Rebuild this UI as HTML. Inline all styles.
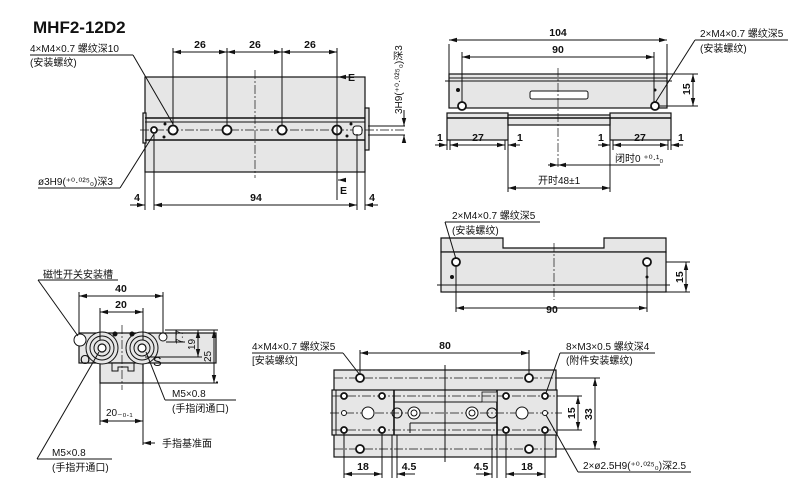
<!DOCTYPE html>
<html><head><meta charset="utf-8"><style>
html,body{margin:0;padding:0;background:#fff;}
svg{display:block;}
text{font-family:"Liberation Sans","Noto Sans CJK SC",sans-serif;fill:#111;}
.t{font-size:10px;}
.b{font-size:10.5px;font-weight:bold;}
.l{stroke:#111;stroke-width:1;fill:none;}
.th{stroke:#111;stroke-width:1.6;fill:none;}
.c{stroke:#111;stroke-width:0.7;fill:none;stroke-dasharray:9 2 2 2;}
.g{fill:#e6e6e6;stroke:#111;stroke-width:1.2;}
.h{fill:#fff;stroke:#111;stroke-width:1.8;}
</style></head><body>
<svg width="800" height="502" viewBox="0 0 800 502" xmlns="http://www.w3.org/2000/svg">
<defs>
<marker id="a" markerWidth="8" markerHeight="6" refX="8" refY="3" orient="auto-start-reverse" markerUnits="userSpaceOnUse"><path d="M0,0.8 L8,3 L0,5.2z" fill="#111"/></marker>
</defs>

<!-- Title -->
<text x="33" y="33" style="font-size:17px;font-weight:bold">MHF2-12D2</text>

<!-- ===== TOP-LEFT VIEW ===== -->
<rect x="145" y="77" width="220" height="95" class="g"/>
<rect x="365" y="108" width="4" height="42" class="g"/>
<rect x="143" y="113" width="3" height="30" class="g"/>
<line x1="145" y1="118" x2="365" y2="118" class="th"/>
<line x1="145" y1="140" x2="365" y2="140" class="th"/>
<line x1="145" y1="122" x2="365" y2="122" class="l"/>
<line x1="140" y1="130" x2="405" y2="130" class="c"/>
<line x1="255" y1="70" x2="255" y2="178" class="c"/>
<circle cx="173" cy="130" r="4.5" class="h"/>
<circle cx="227" cy="130" r="4.5" class="h"/>
<circle cx="282" cy="130" r="4.5" class="h"/>
<circle cx="337" cy="130" r="4.5" class="h"/>
<circle cx="154" cy="130" r="3" class="h"/>
<circle cx="165" cy="124" r="1.5" fill="#111"/><circle cx="164" cy="137" r="1.5" fill="#111"/>
<circle cx="351" cy="124" r="1.5" fill="#111"/><circle cx="347" cy="136" r="1.5" fill="#111"/>
<rect x="353" y="126" width="9" height="9" rx="3" class="h" style="stroke-width:1"/>
<line x1="368" y1="126" x2="405" y2="126" class="l"/>
<line x1="368" y1="135" x2="405" y2="135" class="l"/>
<!-- 26 dims -->
<line x1="173" y1="48" x2="173" y2="126" class="l"/>
<line x1="227" y1="48" x2="227" y2="126" class="l"/>
<line x1="282" y1="48" x2="282" y2="126" class="l"/>
<line x1="337" y1="48" x2="337" y2="200" class="l"/>
<line x1="173" y1="52" x2="227" y2="52" class="l" marker-start="url(#a)" marker-end="url(#a)"/>
<line x1="227" y1="52" x2="282" y2="52" class="l" marker-start="url(#a)" marker-end="url(#a)"/>
<line x1="282" y1="52" x2="337" y2="52" class="l" marker-start="url(#a)" marker-end="url(#a)"/>
<text x="200" y="48" class="b" text-anchor="middle">26</text>
<text x="255" y="48" class="b" text-anchor="middle">26</text>
<text x="310" y="48" class="b" text-anchor="middle">26</text>
<!-- E -->
<line x1="338" y1="77" x2="345" y2="77" class="l" marker-start="url(#a)"/>
<text x="348" y="81" class="b">E</text>
<line x1="338" y1="180" x2="345" y2="180" class="l" marker-start="url(#a)"/>
<text x="340" y="194" class="b">E</text>
<!-- bottom dims -->
<line x1="145" y1="172" x2="145" y2="210" class="l"/>
<line x1="154" y1="134" x2="154" y2="210" class="l"/>
<line x1="357" y1="134" x2="357" y2="210" class="l"/>
<line x1="365" y1="172" x2="365" y2="210" class="l"/>
<line x1="130" y1="205" x2="145" y2="205" class="l" marker-end="url(#a)"/>
<line x1="154" y1="205" x2="357" y2="205" class="l" marker-start="url(#a)" marker-end="url(#a)"/>
<line x1="365" y1="205" x2="378" y2="205" class="l" marker-start="url(#a)"/>
<text x="137" y="201" class="b" text-anchor="middle">4</text>
<text x="256" y="201" class="b" text-anchor="middle">94</text>
<text x="372" y="201" class="b" text-anchor="middle">4</text>
<!-- 3H9 -->
<line x1="404" y1="110" x2="404" y2="126" class="l" marker-end="url(#a)"/>
<line x1="404" y1="142" x2="404" y2="135" class="l" marker-end="url(#a)"/>
<text transform="translate(402,114) rotate(-90)" class="t">3H9(⁺⁰·⁰²⁵₀)深3</text>
<!-- leaders -->
<text x="30" y="52" class="t">4×M4×0.7 螺纹深10</text>
<line x1="30" y1="55" x2="133" y2="55" class="l"/>
<line x1="133" y1="55" x2="173" y2="124" class="l"/>
<text x="30" y="66" class="t">(安装螺纹)</text>
<text x="38" y="185" class="t">ø3H9(⁺⁰·⁰²⁵₀)深3</text>
<line x1="38" y1="188" x2="120" y2="188" class="l"/>
<line x1="120" y1="188" x2="154" y2="134" class="l"/>

<!-- ===== TOP-RIGHT VIEW ===== -->
<rect x="449" y="74" width="218" height="34" class="g"/>
<line x1="445" y1="81" x2="672" y2="81" class="l"/>
<line x1="449" y1="78" x2="667" y2="78" class="l"/>
<rect x="530" y="91" width="58" height="8" rx="2" fill="#fff" stroke="#111"/>
<circle cx="462" cy="106" r="4" class="h"/>
<circle cx="655" cy="106" r="4" class="h"/>
<circle cx="458" cy="90" r="2" fill="#111"/><circle cx="655" cy="90" r="1.5" fill="#111"/>
<rect x="447" y="113" width="61" height="27" class="g"/>
<rect x="610" y="113" width="61" height="27" class="g"/>
<rect x="508" y="115" width="102" height="10" class="g"/>
<line x1="447" y1="118" x2="671" y2="118" class="th"/>
<line x1="449" y1="74" x2="449" y2="44" class="l"/>
<line x1="667" y1="74" x2="667" y2="44" class="l"/>
<line x1="462" y1="102" x2="462" y2="52" class="l"/>
<line x1="654" y1="102" x2="654" y2="52" class="l"/>
<line x1="449" y1="40" x2="667" y2="40" class="l" marker-start="url(#a)" marker-end="url(#a)"/>
<line x1="462" y1="57" x2="654" y2="57" class="l" marker-start="url(#a)" marker-end="url(#a)"/>
<text x="558" y="36" class="b" text-anchor="middle">104</text>
<text x="558" y="53" class="b" text-anchor="middle">90</text>
<line x1="558" y1="68" x2="558" y2="168" class="c"/>
<line x1="667" y1="74" x2="698" y2="74" class="l"/>
<line x1="660" y1="106" x2="698" y2="106" class="l"/>
<line x1="693" y1="74" x2="693" y2="106" class="l" marker-start="url(#a)" marker-end="url(#a)"/>
<text transform="translate(690,95) rotate(-90)" class="b">15</text>
<line x1="447" y1="140" x2="447" y2="150" class="l"/>
<line x1="450" y1="140" x2="450" y2="150" class="l"/>
<line x1="508" y1="140" x2="508" y2="192" class="l"/>
<line x1="505" y1="140" x2="505" y2="150" class="l"/>
<line x1="610" y1="140" x2="610" y2="192" class="l"/>
<line x1="613" y1="140" x2="613" y2="150" class="l"/>
<line x1="668" y1="140" x2="668" y2="150" class="l"/>
<line x1="671" y1="140" x2="671" y2="150" class="l"/>
<line x1="435" y1="145" x2="447" y2="145" class="l" marker-end="url(#a)"/>
<line x1="450" y1="145" x2="505" y2="145" class="l" marker-start="url(#a)" marker-end="url(#a)"/>
<line x1="508" y1="145" x2="520" y2="145" class="l" marker-start="url(#a)"/>
<line x1="598" y1="145" x2="610" y2="145" class="l" marker-end="url(#a)"/>
<line x1="613" y1="145" x2="668" y2="145" class="l" marker-start="url(#a)" marker-end="url(#a)"/>
<line x1="671" y1="145" x2="683" y2="145" class="l" marker-start="url(#a)"/>
<text x="437" y="141" class="b">1</text><text x="478" y="141" class="b" text-anchor="middle">27</text><text x="517" y="141" class="b">1</text>
<text x="598" y="141" class="b">1</text><text x="640" y="141" class="b" text-anchor="middle">27</text><text x="678" y="141" class="b">1</text>
<line x1="548" y1="165" x2="558" y2="165" class="l" marker-end="url(#a)"/>
<line x1="558" y1="165" x2="660" y2="165" class="l" marker-start="url(#a)"/>
<text x="615" y="162" class="t">闭时0 ⁺⁰·¹₀</text>
<line x1="508" y1="188" x2="610" y2="188" class="l" marker-start="url(#a)" marker-end="url(#a)"/>
<text x="538" y="184" class="t">开时48±1</text>
<text x="700" y="37" class="t">2×M4×0.7 螺纹深5</text>
<line x1="695" y1="40" x2="788" y2="40" class="l"/>
<line x1="695" y1="40" x2="655" y2="103" class="l"/>
<text x="700" y="52" class="t">(安装螺纹)</text>

<!-- ===== MIDDLE-RIGHT VIEW ===== -->
<path d="M441,238 H503 V248 H604 V238 H666 V252 H441 Z" class="g"/>
<rect x="441" y="252" width="225" height="40" class="g"/>
<line x1="437" y1="285" x2="670" y2="285" class="l"/>
<circle cx="456" cy="262" r="4" class="h"/>
<circle cx="647" cy="262" r="4" class="h"/>
<circle cx="452" cy="277" r="2" fill="#111"/><circle cx="647" cy="277" r="1.5" fill="#111"/>
<line x1="554" y1="243" x2="554" y2="300" class="c"/>
<line x1="666" y1="262" x2="690" y2="262" class="l"/>
<line x1="666" y1="292" x2="690" y2="292" class="l"/>
<line x1="686" y1="262" x2="686" y2="292" class="l" marker-start="url(#a)" marker-end="url(#a)"/>
<text transform="translate(683,283) rotate(-90)" class="b">15</text>
<line x1="456" y1="266" x2="456" y2="312" class="l"/>
<line x1="647" y1="266" x2="647" y2="312" class="l"/>
<line x1="456" y1="308" x2="647" y2="308" class="l" marker-start="url(#a)" marker-end="url(#a)"/>
<text x="552" y="313" class="b" text-anchor="middle">90</text>
<text x="452" y="219" class="t">2×M4×0.7 螺纹深5</text>
<line x1="445" y1="222" x2="540" y2="222" class="l"/>
<line x1="445" y1="222" x2="456" y2="259" class="l"/>
<text x="452" y="234" class="t">(安装螺纹)</text>

<!-- ===== BOTTOM-LEFT VIEW ===== -->
<rect x="79" y="333" width="137" height="30" class="g"/>
<rect x="100" y="363" width="43" height="20" class="g"/>
<path d="M112,363 v8 h6 v-4 h10 v4 h6 v-8" class="l"/>
<circle cx="102" cy="348" r="16" fill="#e6e6e6" stroke="#111"/>
<circle cx="102" cy="348" r="12" fill="none" stroke="#111"/><circle cx="102" cy="348" r="8" fill="none" stroke="#111"/>
<circle cx="102" cy="348" r="4" class="h" style="stroke-width:1.2"/>
<circle cx="142" cy="348" r="16" fill="#e6e6e6" stroke="#111"/>
<circle cx="142" cy="348" r="12" fill="none" stroke="#111"/><circle cx="142" cy="348" r="8" fill="none" stroke="#111"/>
<circle cx="142" cy="348" r="4" class="h" style="stroke-width:1.2"/>
<circle cx="80" cy="340" r="6" fill="#fff" stroke="#111"/>
<circle cx="163" cy="337" r="4" fill="#fff" stroke="#111"/>
<circle cx="115" cy="334" r="2.5" fill="#111"/><circle cx="132" cy="334" r="2.5" fill="#111"/>
<text x="80" y="364" class="b" style="font-size:13px;font-weight:normal">O</text>
<text x="153" y="366" class="b" style="font-size:13px;font-weight:normal">S</text>
<line x1="122" y1="325" x2="122" y2="390" class="c"/>
<line x1="79" y1="333" x2="79" y2="292" class="l"/>
<line x1="163" y1="333" x2="163" y2="292" class="l"/>
<line x1="79" y1="296" x2="163" y2="296" class="l" marker-start="url(#a)" marker-end="url(#a)"/>
<text x="121" y="292" class="b" text-anchor="middle">40</text>
<line x1="100" y1="340" x2="100" y2="308" class="l"/>
<line x1="143" y1="340" x2="143" y2="308" class="l"/>
<line x1="100" y1="312" x2="143" y2="312" class="l" marker-start="url(#a)" marker-end="url(#a)"/>
<text x="121" y="308" class="b" text-anchor="middle">20</text>
<line x1="165" y1="330" x2="218" y2="330" class="l"/>
<line x1="166" y1="342" x2="185" y2="342" class="l"/>
<line x1="216" y1="382" x2="218" y2="382" class="l"/>
<line x1="145" y1="357" x2="202" y2="357" class="l"/>
<line x1="176" y1="330" x2="176" y2="342" class="l"/>
<text transform="translate(183,344) rotate(-90)" class="t">7.7</text>
<line x1="198" y1="330" x2="198" y2="357" class="l" marker-start="url(#a)" marker-end="url(#a)"/>
<text transform="translate(195,350) rotate(-90)" class="t">19</text>
<line x1="143" y1="383" x2="218" y2="383" class="l"/>
<line x1="214" y1="330" x2="214" y2="383" class="l" marker-start="url(#a)" marker-end="url(#a)"/>
<text transform="translate(211,362) rotate(-90)" class="t">25</text>
<line x1="100" y1="383" x2="100" y2="425" class="l"/>
<line x1="143" y1="383" x2="143" y2="445" class="l"/>
<line x1="100" y1="421" x2="143" y2="421" class="l" marker-start="url(#a)" marker-end="url(#a)"/>
<text x="106" y="416" class="t">20₋₀.₁</text>
<line x1="143" y1="443" x2="155" y2="443" class="l" marker-start="url(#a)"/>
<text x="162" y="447" class="t">手指基准面</text>
<text x="43" y="278" class="t">磁性开关安装槽</text>
<line x1="38" y1="280" x2="118" y2="280" class="l"/>
<line x1="38" y1="280" x2="78" y2="336" class="l"/>
<text x="172" y="397" class="t">M5×0.8</text>
<text x="172" y="412" class="t">(手指闭通口)</text>
<line x1="165" y1="400" x2="236" y2="400" class="l"/>
<line x1="165" y1="400" x2="146" y2="352" class="l"/>
<text x="52" y="456" class="t">M5×0.8</text>
<text x="52" y="471" class="t">(手指开通口)</text>
<line x1="37" y1="459" x2="112" y2="459" class="l"/>
<line x1="37" y1="459" x2="99" y2="352" class="l"/>

<!-- ===== BOTTOM-MIDDLE VIEW ===== -->
<rect x="334" y="370" width="222" height="87" class="g"/>
<rect x="332" y="390" width="225" height="45" class="g"/>
<line x1="394" y1="390" x2="394" y2="435" class="th"/>
<line x1="497" y1="390" x2="497" y2="435" class="th"/>
<line x1="336" y1="390" x2="336" y2="435" class="l"/>
<rect x="482" y="392" width="15" height="10" fill="#ddd" stroke="#111" stroke-width="0.8"/>
<line x1="394" y1="402" x2="482" y2="402" class="l"/>
<line x1="410" y1="423" x2="497" y2="423" class="l"/>
<line x1="410" y1="423" x2="410" y2="433" class="l"/>
<line x1="330" y1="413" x2="562" y2="413" class="c"/>
<line x1="334" y1="378" x2="556" y2="378" class="c"/>
<line x1="334" y1="449" x2="556" y2="449" class="c"/>
<line x1="332" y1="396" x2="557" y2="396" class="c"/>
<line x1="332" y1="430" x2="557" y2="430" class="c"/>
<line x1="445" y1="365" x2="445" y2="462" class="l"/>
<circle cx="360" cy="378" r="4" class="h"/><circle cx="529" cy="378" r="4" class="h"/>
<circle cx="360" cy="449" r="4" class="h"/><circle cx="529" cy="449" r="4" class="h"/>
<circle cx="344" cy="396" r="3" class="h"/><circle cx="382" cy="396" r="3" class="h"/>
<circle cx="344" cy="430" r="3" class="h"/><circle cx="382" cy="430" r="3" class="h"/>
<circle cx="506" cy="396" r="3" class="h"/><circle cx="545" cy="396" r="3" class="h"/>
<circle cx="506" cy="430" r="3" class="h"/><circle cx="545" cy="430" r="3" class="h"/>
<circle cx="344" cy="413" r="2.5" class="h" style="stroke-width:1"/><circle cx="545" cy="413" r="2.5" class="h" style="stroke-width:1"/>
<circle cx="368" cy="413" r="6" fill="#fff" stroke="#111"/>
<circle cx="414" cy="413" r="6" fill="#fff" stroke="#111"/><circle cx="414" cy="413" r="3" fill="none" stroke="#111"/>
<circle cx="472" cy="413" r="6" fill="#fff" stroke="#111"/><circle cx="472" cy="413" r="3" fill="none" stroke="#111"/>
<circle cx="522" cy="413" r="6" fill="#fff" stroke="#111"/>
<circle cx="397" cy="413" r="5" fill="none" stroke="#111"/><circle cx="492" cy="413" r="5" fill="none" stroke="#111"/>
<line x1="360" y1="374" x2="360" y2="350" class="l"/>
<line x1="529" y1="374" x2="529" y2="350" class="l"/>
<line x1="360" y1="353" x2="529" y2="353" class="l" marker-start="url(#a)" marker-end="url(#a)"/>
<text x="445" y="349" class="b" text-anchor="middle">80</text>
<line x1="556" y1="378" x2="600" y2="378" class="l"/>
<line x1="556" y1="449" x2="600" y2="449" class="l"/>
<line x1="557" y1="396" x2="582" y2="396" class="l"/>
<line x1="557" y1="430" x2="582" y2="430" class="l"/>
<line x1="578" y1="396" x2="578" y2="430" class="l" marker-start="url(#a)" marker-end="url(#a)"/>
<line x1="595" y1="378" x2="595" y2="449" class="l" marker-start="url(#a)" marker-end="url(#a)"/>
<text transform="translate(575,419) rotate(-90)" class="b">15</text>
<text transform="translate(592,420) rotate(-90)" class="b">33</text>
<line x1="344" y1="433" x2="344" y2="478" class="l"/>
<line x1="382" y1="433" x2="382" y2="478" class="l"/>
<line x1="392" y1="435" x2="392" y2="478" class="l"/>
<line x1="397" y1="435" x2="397" y2="478" class="l"/>
<line x1="492" y1="435" x2="492" y2="478" class="l"/>
<line x1="497" y1="435" x2="497" y2="478" class="l"/>
<line x1="506" y1="433" x2="506" y2="478" class="l"/>
<line x1="545" y1="433" x2="545" y2="478" class="l"/>
<line x1="344" y1="474" x2="382" y2="474" class="l" marker-start="url(#a)" marker-end="url(#a)"/>
<line x1="397" y1="474" x2="415" y2="474" class="l" marker-start="url(#a)"/>
<line x1="476" y1="474" x2="492" y2="474" class="l" marker-end="url(#a)"/>
<line x1="506" y1="474" x2="545" y2="474" class="l" marker-start="url(#a)" marker-end="url(#a)"/>
<text x="363" y="470" class="b" text-anchor="middle">18</text>
<text x="409" y="470" class="b" text-anchor="middle">4.5</text>
<text x="481" y="470" class="b" text-anchor="middle">4.5</text>
<text x="527" y="470" class="b" text-anchor="middle">18</text>
<text x="252" y="350" class="t">4×M4×0.7 螺纹深5</text>
<line x1="252" y1="353" x2="343" y2="353" class="l"/>
<line x1="343" y1="353" x2="360" y2="375" class="l"/>
<text x="252" y="364" class="t">[安装螺纹]</text>
<text x="566" y="350" class="t">8×M3×0.5 螺纹深4</text>
<line x1="560" y1="353" x2="655" y2="353" class="l"/>
<line x1="560" y1="353" x2="546" y2="393" class="l"/>
<text x="566" y="364" class="t">(附件安装螺纹)</text>
<text x="583" y="469" class="t">2×ø2.5H9(⁺⁰·⁰²⁵₀)深2.5</text>
<line x1="578" y1="472" x2="691" y2="472" class="l"/>
<line x1="578" y1="472" x2="546" y2="415" class="l"/>
</svg>
</body></html>
